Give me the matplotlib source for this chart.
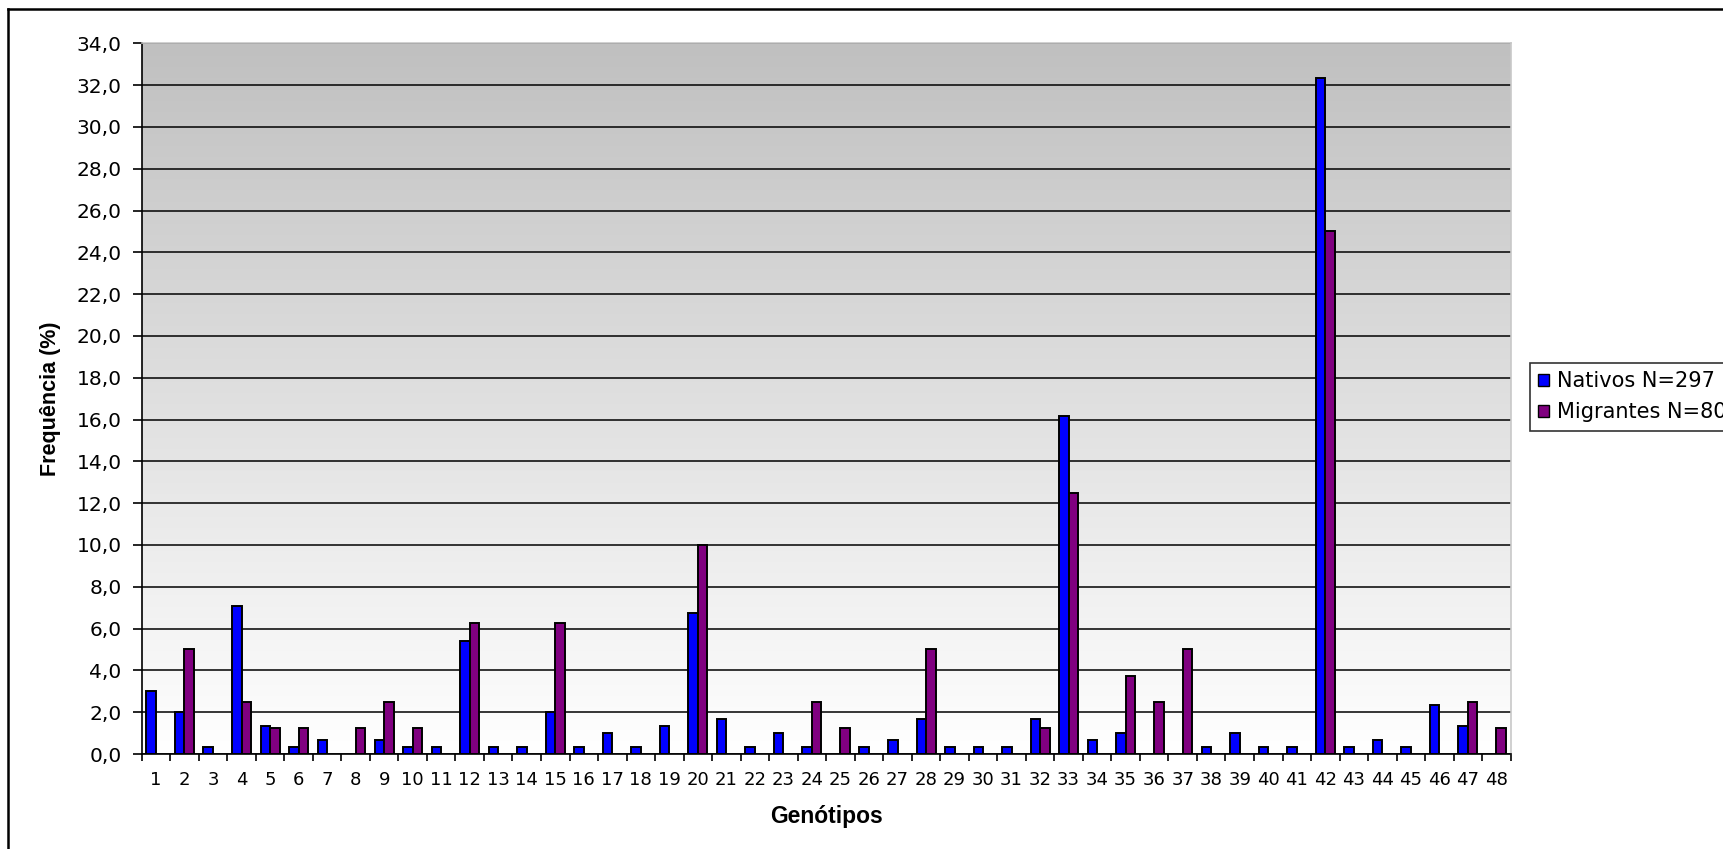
import numpy as np
import matplotlib.pyplot as plt
from matplotlib.lines import Line2D
from matplotlib.patches import Patch

plt.rcParams['font.family'] = ['DejaVu Sans']

genotipos = list(range(1, 49))

# frequencias (%) por genotipo
nativos = [3.03, 2.02, 0.34, 7.07, 1.35, 0.34, 0.67, 0.00, 0.67, 0.34,
           0.34, 5.39, 0.34, 0.34, 2.02, 0.34, 1.01, 0.34, 1.35, 6.73,
           1.68, 0.34, 1.01, 0.34, 0.00, 0.34, 0.67, 1.68, 0.34, 0.34,
           0.34, 1.68, 16.16, 0.67, 1.01, 0.00, 0.00, 0.34, 1.01, 0.34,
           0.34, 32.32, 0.34, 0.67, 0.34, 2.36, 1.35, 0.00]
migrantes = [0.00, 5.00, 0.00, 2.50, 1.25, 1.25, 0.00, 1.25, 2.50, 1.25,
             0.00, 6.25, 0.00, 0.00, 6.25, 0.00, 0.00, 0.00, 0.00, 10.00,
             0.00, 0.00, 0.00, 2.50, 1.25, 0.00, 0.00, 5.00, 0.00, 0.00,
             0.00, 1.25, 12.50, 0.00, 3.75, 2.50, 5.00, 0.00, 0.00, 0.00,
             0.00, 25.00, 0.00, 0.00, 0.00, 0.00, 2.50, 1.25]

W, H = 1724, 849
fig = plt.figure(figsize=(W / 100, H / 100), dpi=100)
ax = fig.add_axes([141.7 / W, 1 - 754 / H, (1510.7 - 141.7) / W, (754 - 43.3) / H])

# fundo em degrade cinza -> branco
grad = np.linspace(0, 1, 256).reshape(-1, 1)
ax.imshow(grad, cmap=plt.cm.colors.LinearSegmentedColormap.from_list(
    'fundo', ['#c0c0c0', '#ffffff']), aspect='auto',
    extent=[0.5, 48.5, 0, 34], origin='upper', zorder=0)

x = np.array(genotipos)
w = 1 / 3
for xi, v in zip(x, nativos):
    if v > 0:
        ax.bar(xi - w / 2, v, w, color='#0000ff', edgecolor='black', linewidth=1.4, zorder=3)
for xi, v in zip(x, migrantes):
    if v > 0:
        ax.bar(xi + w / 2, v, w, color='#800080', edgecolor='black', linewidth=1.4, zorder=3)

ax.set_xlim(0.5, 48.5)
ax.set_ylim(0, 34)
ax.set_yticks(np.arange(0, 35, 2))
ax.set_yticklabels([f'{v:.1f}'.replace('.', ',') for v in np.arange(0, 35, 2)], fontsize=14.5)
ax.yaxis.grid(True, color='black', linewidth=1.1, zorder=1)
ax.set_axisbelow(True)

ax.set_xticks(x)
ax.set_xticklabels([str(g) for g in genotipos], fontsize=13)
ax.set_xticks(np.arange(0.5, 49, 1), minor=True)
ax.tick_params(axis='x', which='major', length=0, pad=12)
ax.tick_params(axis='x', which='minor', length=5, width=1.2, color='black')
ax.tick_params(axis='y', length=6.5, width=1.2, pad=8)

for s in ['left', 'bottom']:
    ax.spines[s].set_color('black')
    ax.spines[s].set_linewidth(1.2)
for s in ['top', 'right']:
    ax.spines[s].set_color('#c8c8c8')
    ax.spines[s].set_linewidth(1.2)

ax.set_ylabel('Frequência (%)', fontsize=15.5, fontweight='bold', family='Liberation Sans')
ax.yaxis.set_label_coords(-0.059, 0.5)
ax.set_xlabel('Genótipos', fontsize=16.5, fontweight='bold', family='Liberation Sans')
ax.xaxis.set_label_coords(0.5, -0.072)

handles = [Patch(facecolor='#0000ff', edgecolor='black', linewidth=1.0),
           Patch(facecolor='#800080', edgecolor='black', linewidth=1.0)]
leg = fig.legend(handles, ['Nativos N=297', 'Migrantes N=80'], loc='upper left',
                 bbox_to_anchor=(1530 / W, 1 - 362.7 / H), fontsize=15,
                 frameon=True, fancybox=False, handlelength=0.5, handleheight=0.5,
                 handletextpad=0.4, labelspacing=0.55, borderpad=0.4,
                 borderaxespad=0)
leg.get_frame().set_edgecolor('black')
leg.get_frame().set_linewidth(1.2)

# moldura externa
fig.add_artist(Line2D([8 / W, 8 / W], [0, 1 - 9 / H], color='black', linewidth=1.8))
fig.add_artist(Line2D([8 / W, 1], [1 - 9 / H, 1 - 9 / H], color='black', linewidth=1.8))

fig.savefig('out.png', dpi=100)
